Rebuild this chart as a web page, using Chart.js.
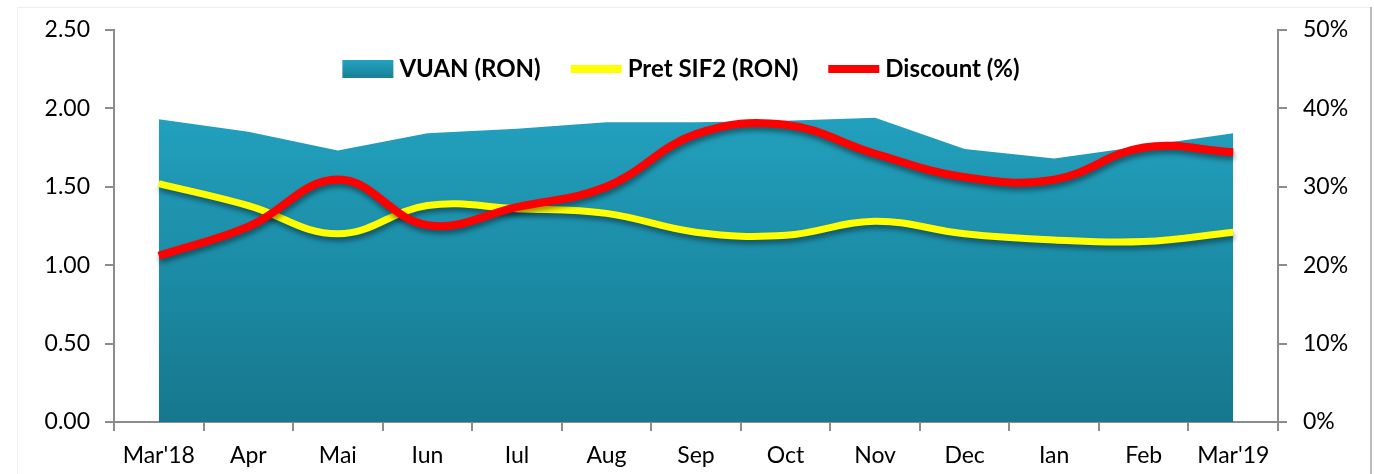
<!DOCTYPE html>
<html>
<head>
<meta charset="utf-8">
<script src="https://cdn.jsdelivr.net/npm/chart.js@4/dist/chart.umd.min.js"></script>
<style>
  html, body { margin: 0; padding: 0; background: #fff; }
  #wrap { position: relative; width: 1374px; height: 474px; }
  canvas { display: block; }
</style>
</head>
<body>
<div id="wrap"><canvas id="c" width="1374" height="474"></canvas></div>
<script>
// ---- data ----
const categories = ["Mar'18", "Apr", "Mai", "Iun", "Iul", "Aug", "Sep", "Oct", "Nov", "Dec", "Ian", "Feb", "Mar'19"];
const vuan = [1.93, 1.85, 1.73, 1.84, 1.87, 1.91, 1.91, 1.92, 1.94, 1.74, 1.68, 1.76, 1.84];
const pretSif2 = [1.52, 1.38, 1.20, 1.38, 1.36, 1.33, 1.21, 1.19, 1.28, 1.20, 1.16, 1.15, 1.21];
const discount = [21.2, 24.9, 30.9, 25.1, 27.4, 30.0, 36.7, 37.9, 34.2, 31.2, 30.9, 35.0, 34.4];
const seriesNames = ["VUAN (RON)", "Pret SIF2 (RON)", "Discount (%)"];
const leftTicks = [0, 0.5, 1.0, 1.5, 2.0, 2.5];
const rightTicks = [0, 10, 20, 30, 40, 50];

const AREA_SOLID = '#1f98b5';
const YELLOW = '#ffff00';
const RED = '#ff0000';
const AXIS = '#8c8c8c';
const FONT = 'Lato, "Open Sans", "Liberation Sans", sans-serif';

const shadowPlugin = {
  id: 'shadows',
  beforeDatasetDraw(chart, args) {
    const ctx = chart.ctx;
    ctx.save();
    if (args.index === 0) {
      ctx.shadowColor = 'rgba(0,0,0,0.30)';
      ctx.shadowBlur = 5;
      ctx.shadowOffsetX = 3;
      ctx.shadowOffsetY = 2;
    } else {
      ctx.shadowColor = 'rgba(0,0,0,0.40)';
      ctx.shadowBlur = 5;
      ctx.shadowOffsetX = 1;
      ctx.shadowOffsetY = 4;
    }
  },
  afterDatasetDraw(chart) { chart.ctx.restore(); }
};

const framePlugin = {
  id: 'frame',
  beforeDraw(chart) {
    const ctx = chart.ctx;
    ctx.save();
    ctx.strokeStyle = '#eeeeee';
    ctx.lineWidth = 1;
    ctx.beginPath();
    ctx.moveTo(17.5, 474); ctx.lineTo(17.5, 7.5); ctx.lineTo(1370, 7.5);
    ctx.stroke();
    ctx.strokeStyle = '#bdbdbd';
    ctx.lineWidth = 2;
    ctx.beginPath();
    ctx.moveTo(1371, 7); ctx.lineTo(1371, 474);
    ctx.stroke();
    ctx.restore();
  }
};

// legend drawn inside the plot, above the area
const legendItems = [
  { text: seriesNames[0], color: AREA_SOLID, kind: 'box' },
  { text: seriesNames[1], color: YELLOW, kind: 'line' },
  { text: seriesNames[2], color: RED, kind: 'line' }
];
const insideLegend = {
  id: 'insideLegend',
  afterDraw(chart) {
    const ctx = chart.ctx;
    ctx.save();
    ctx.font = 'bold 24px ' + FONT;
    ctx.textBaseline = 'middle';
    ctx.textAlign = 'left';
    const symW = 51, gapText = 6, gapItem = 30;
    const widths = legendItems.map(it => symW + gapText + ctx.measureText(it.text).width);
    const total = widths.reduce((a, b) => a + b, 0) + gapItem * (legendItems.length - 1);
    const cx = 681, cy = 69;
    let x = cx - total / 2;
    legendItems.forEach((it, i) => {
      if (it.kind === 'box') {
        const g = ctx.createLinearGradient(0, cy - 9, 0, cy + 9);
        g.addColorStop(0, '#23a2c0');
        g.addColorStop(1, '#1a7f96');
        ctx.fillStyle = g;
        ctx.fillRect(x, cy - 9, symW, 18);
      } else {
        ctx.fillStyle = it.color;
        ctx.fillRect(x, cy - 4, symW, 8);
      }
      ctx.fillStyle = '#000';
      ctx.fillText(it.text, x + symW + gapText, cy);
      x += widths[i] + gapItem;
    });
    ctx.restore();
  }
};

function areaGradient(context) {
  const chart = context.chart;
  const area = chart.chartArea;
  if (!area) return AREA_SOLID;
  const g = chart.ctx.createLinearGradient(0, 110, 0, area.bottom);
  g.addColorStop(0, '#22a1bf');
  g.addColorStop(1, '#16778d');
  return g;
}

new Chart(document.getElementById('c'), {
  type: 'line',
  data: {
    labels: categories,
    datasets: [
      {
        label: seriesNames[0],
        data: vuan,
        yAxisID: 'y',
        fill: 'origin',
        backgroundColor: areaGradient,
        borderWidth: 0,
        borderColor: 'rgba(0,0,0,0)',
        tension: 0,
        pointRadius: 0,
        order: 3
      },
      {
        label: seriesNames[1],
        data: pretSif2,
        yAxisID: 'y',
        fill: false,
        borderColor: YELLOW,
        borderWidth: 7,
        tension: 0.4,
        pointRadius: 0,
        order: 2
      },
      {
        label: seriesNames[2],
        data: discount,
        yAxisID: 'y2',
        fill: false,
        borderColor: RED,
        borderWidth: 8,
        tension: 0.4,
        pointRadius: 0,
        order: 1
      }
    ]
  },
  options: {
    responsive: false,
    animation: false,
    devicePixelRatio: 1,
    layout: { padding: { top: 24, left: 0, right: 0, bottom: 0 } },
    plugins: {
      tooltip: { enabled: false },
      legend: { display: false }
    },
    scales: {
      x: {
        type: 'category',
        offset: true,
        afterFit: (s) => { s.height = 52; },
        grid: { offset: true, drawOnChartArea: false, drawTicks: true, tickLength: 9, color: AXIS, lineWidth: 2 },
        border: { display: true, color: AXIS, width: 2 },
        ticks: { color: '#000', font: { family: FONT, size: 23 }, padding: 11, maxRotation: 0, autoSkip: false }
      },
      y: {
        position: 'left',
        min: 0, max: 2.5,
        afterFit: (s) => { s.width = 114; },
        afterBuildTicks: (s) => { s.ticks = leftTicks.map(v => ({ value: v })); },
        grid: { drawOnChartArea: false, drawTicks: true, tickLength: 9, color: AXIS, lineWidth: 2 },
        border: { display: true, color: AXIS, width: 2 },
        ticks: { color: '#000', font: { family: FONT, size: 23 }, padding: 15, callback: (v) => Number(v).toFixed(2) }
      },
      y2: {
        position: 'right',
        min: 0, max: 50,
        afterFit: (s) => { s.width = 96; },
        afterBuildTicks: (s) => { s.ticks = rightTicks.map(v => ({ value: v })); },
        grid: { drawOnChartArea: false, drawTicks: true, tickLength: 9, color: AXIS, lineWidth: 2 },
        border: { display: true, color: AXIS, width: 2 },
        ticks: { color: '#000', font: { family: FONT, size: 23 }, padding: 16, callback: (v) => v + '%' }
      }
    }
  },
  plugins: [framePlugin, shadowPlugin, insideLegend]
});
</script>
</body>
</html>
